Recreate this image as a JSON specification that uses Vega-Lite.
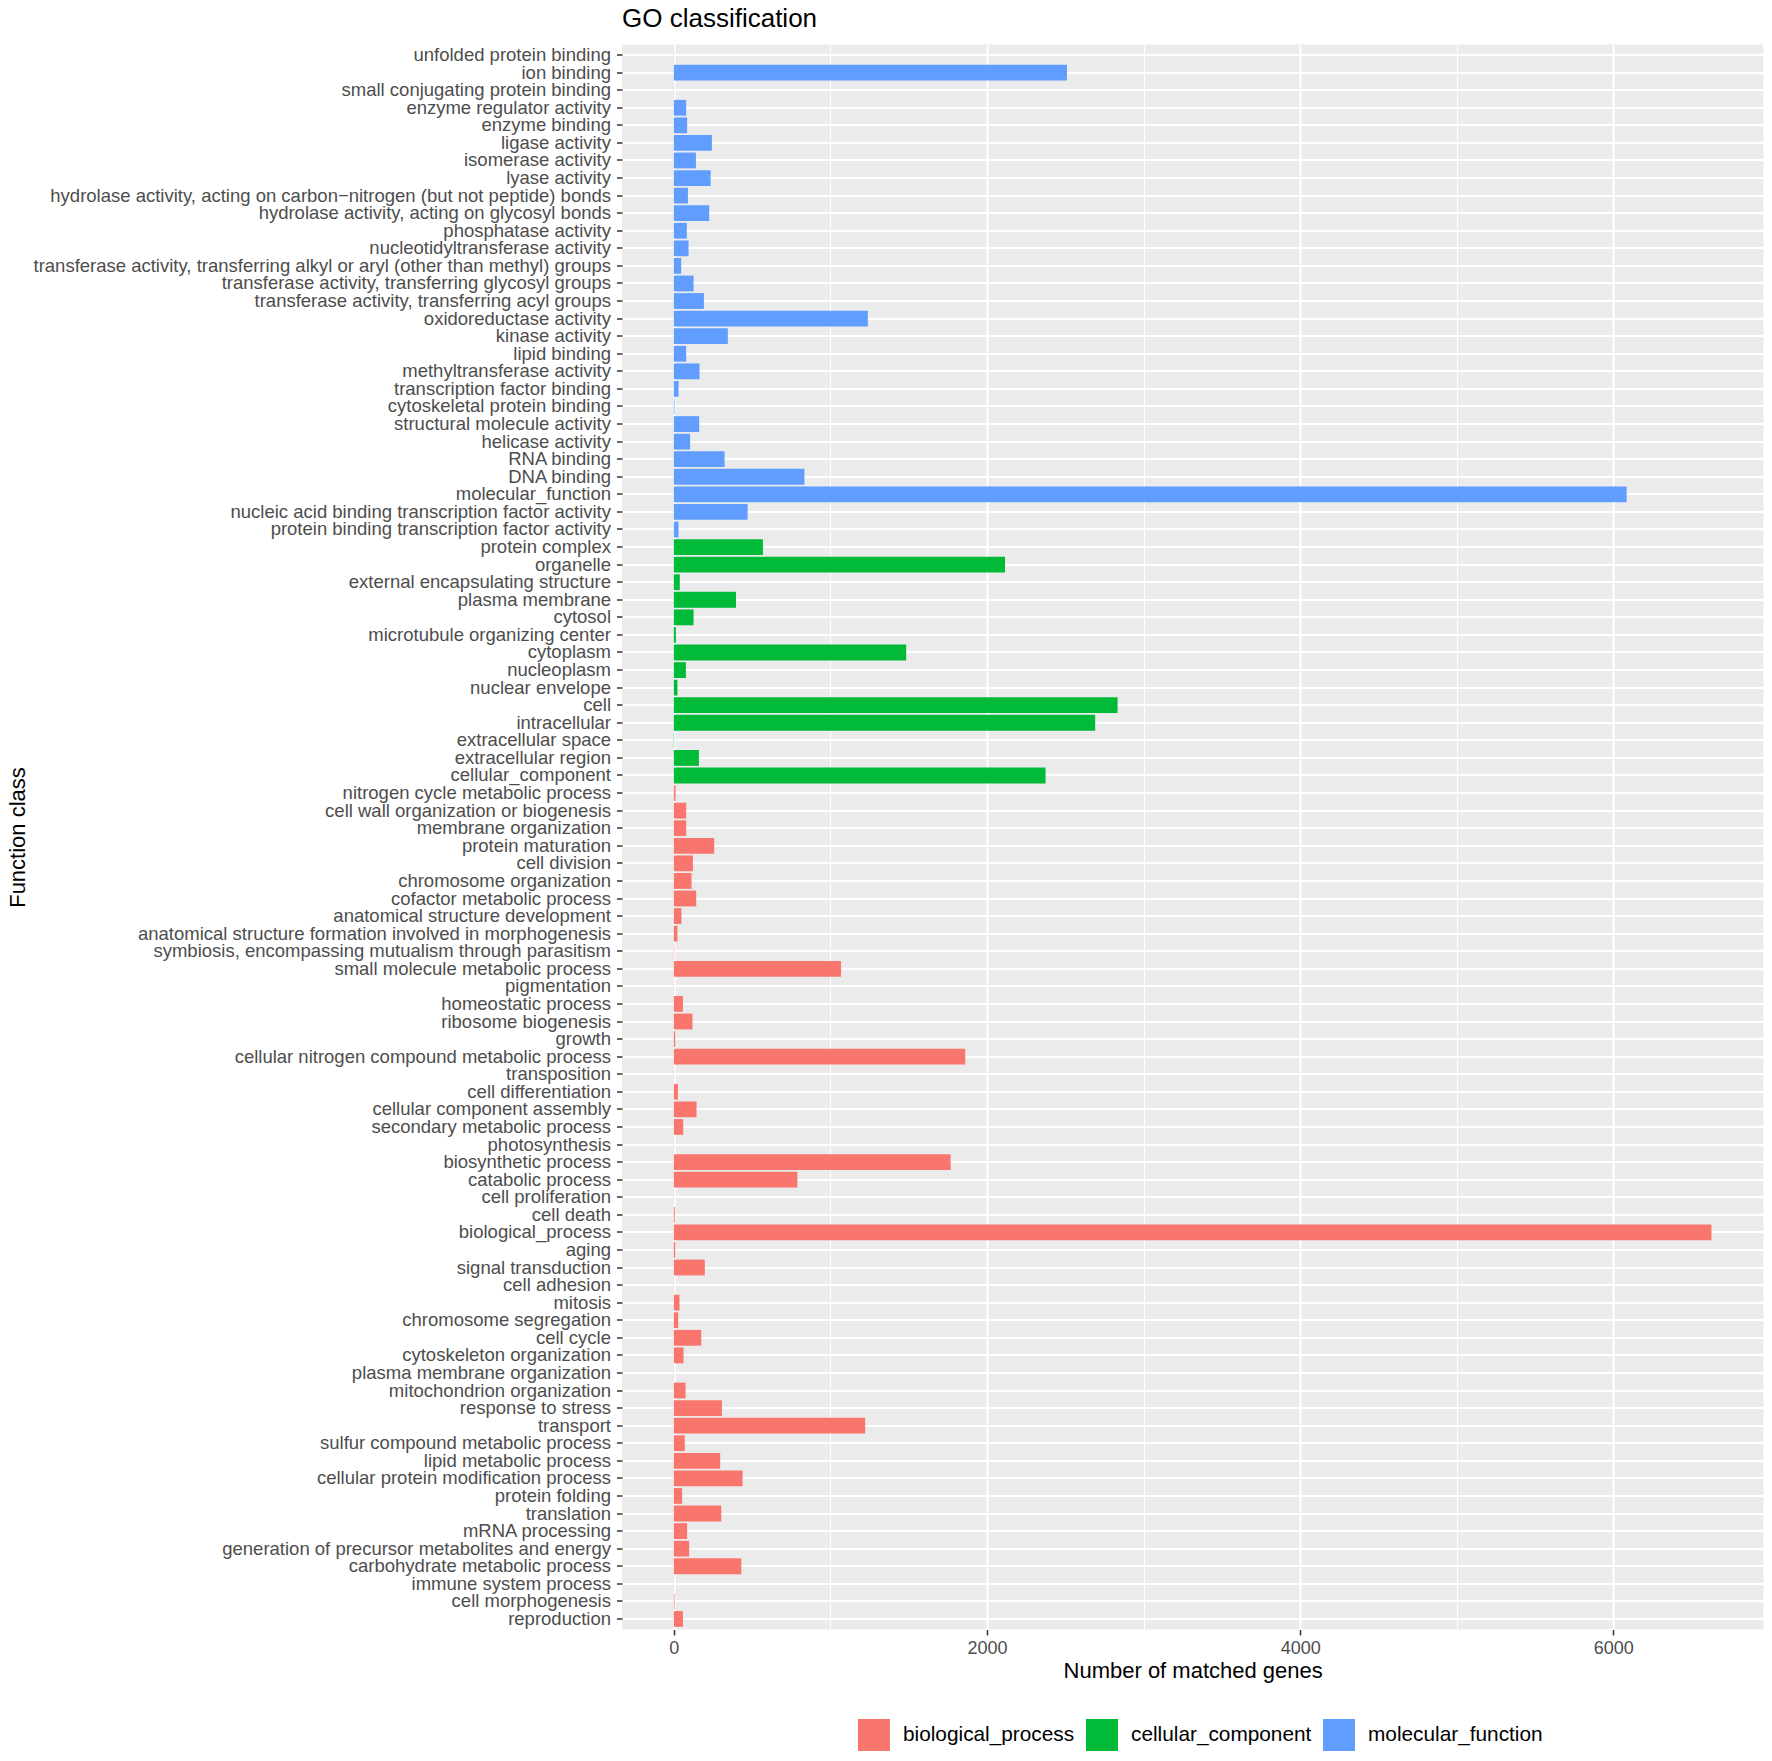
{
  "$schema": "https://vega.github.io/schema/vega-lite/v6.json",
  "autosize": {"type": "none"},
  "padding": {"left": 622, "top": 44.5, "right": 8.7, "bottom": 131.5},
  "width": 1141.3,
  "height": 1585,
  "background": "white",
  "config": {
    "font": "Liberation Sans",
    "view": {"fill": "#EBEBEB", "stroke": null}
  },
  "title": {
    "text": "GO classification",
    "anchor": "start",
    "frame": "group",
    "fontSize": 26,
    "fontWeight": "normal",
    "color": "#000000",
    "offset": 13
  },
  "data": {
    "values": [
      {"term": "unfolded protein binding", "category": "molecular_function", "count": 1},
      {"term": "ion binding", "category": "molecular_function", "count": 2511},
      {"term": "small conjugating protein binding", "category": "molecular_function", "count": 1},
      {"term": "enzyme regulator activity", "category": "molecular_function", "count": 79},
      {"term": "enzyme binding", "category": "molecular_function", "count": 85},
      {"term": "ligase activity", "category": "molecular_function", "count": 243},
      {"term": "isomerase activity", "category": "molecular_function", "count": 141},
      {"term": "lyase activity", "category": "molecular_function", "count": 235},
      {"term": "hydrolase activity, acting on carbon−nitrogen (but not peptide) bonds", "category": "molecular_function", "count": 90},
      {"term": "hydrolase activity, acting on glycosyl bonds", "category": "molecular_function", "count": 226},
      {"term": "phosphatase activity", "category": "molecular_function", "count": 83},
      {"term": "nucleotidyltransferase activity", "category": "molecular_function", "count": 94},
      {"term": "transferase activity, transferring alkyl or aryl (other than methyl) groups", "category": "molecular_function", "count": 47},
      {"term": "transferase activity, transferring glycosyl groups", "category": "molecular_function", "count": 126},
      {"term": "transferase activity, transferring acyl groups", "category": "molecular_function", "count": 192},
      {"term": "oxidoreductase activity", "category": "molecular_function", "count": 1239},
      {"term": "kinase activity", "category": "molecular_function", "count": 345},
      {"term": "lipid binding", "category": "molecular_function", "count": 79},
      {"term": "methyltransferase activity", "category": "molecular_function", "count": 164},
      {"term": "transcription factor binding", "category": "molecular_function", "count": 30},
      {"term": "cytoskeletal protein binding", "category": "molecular_function", "count": 4},
      {"term": "structural molecule activity", "category": "molecular_function", "count": 162},
      {"term": "helicase activity", "category": "molecular_function", "count": 104},
      {"term": "RNA binding", "category": "molecular_function", "count": 324},
      {"term": "DNA binding", "category": "molecular_function", "count": 834},
      {"term": "molecular_function", "category": "molecular_function", "count": 6085},
      {"term": "nucleic acid binding transcription factor activity", "category": "molecular_function", "count": 471},
      {"term": "protein binding transcription factor activity", "category": "molecular_function", "count": 30},
      {"term": "protein complex", "category": "cellular_component", "count": 569},
      {"term": "organelle", "category": "cellular_component", "count": 2115},
      {"term": "external encapsulating structure", "category": "cellular_component", "count": 38},
      {"term": "plasma membrane", "category": "cellular_component", "count": 397},
      {"term": "cytosol", "category": "cellular_component", "count": 126},
      {"term": "microtubule organizing center", "category": "cellular_component", "count": 13},
      {"term": "cytoplasm", "category": "cellular_component", "count": 1484},
      {"term": "nucleoplasm", "category": "cellular_component", "count": 77},
      {"term": "nuclear envelope", "category": "cellular_component", "count": 23},
      {"term": "cell", "category": "cellular_component", "count": 2834},
      {"term": "intracellular", "category": "cellular_component", "count": 2691},
      {"term": "extracellular space", "category": "cellular_component", "count": 2},
      {"term": "extracellular region", "category": "cellular_component", "count": 160},
      {"term": "cellular_component", "category": "cellular_component", "count": 2374},
      {"term": "nitrogen cycle metabolic process", "category": "biological_process", "count": 11},
      {"term": "cell wall organization or biogenesis", "category": "biological_process", "count": 79},
      {"term": "membrane organization", "category": "biological_process", "count": 79},
      {"term": "protein maturation", "category": "biological_process", "count": 258},
      {"term": "cell division", "category": "biological_process", "count": 122},
      {"term": "chromosome organization", "category": "biological_process", "count": 113},
      {"term": "cofactor metabolic process", "category": "biological_process", "count": 143},
      {"term": "anatomical structure development", "category": "biological_process", "count": 49},
      {"term": "anatomical structure formation involved in morphogenesis", "category": "biological_process", "count": 23},
      {"term": "symbiosis, encompassing mutualism through parasitism", "category": "biological_process", "count": 2},
      {"term": "small molecule metabolic process", "category": "biological_process", "count": 1068},
      {"term": "pigmentation", "category": "biological_process", "count": 1},
      {"term": "homeostatic process", "category": "biological_process", "count": 58},
      {"term": "ribosome biogenesis", "category": "biological_process", "count": 119},
      {"term": "growth", "category": "biological_process", "count": 9},
      {"term": "cellular nitrogen compound metabolic process", "category": "biological_process", "count": 1861},
      {"term": "transposition", "category": "biological_process", "count": 1},
      {"term": "cell differentiation", "category": "biological_process", "count": 26},
      {"term": "cellular component assembly", "category": "biological_process", "count": 145},
      {"term": "secondary metabolic process", "category": "biological_process", "count": 60},
      {"term": "photosynthesis", "category": "biological_process", "count": 1},
      {"term": "biosynthetic process", "category": "biological_process", "count": 1768},
      {"term": "catabolic process", "category": "biological_process", "count": 789},
      {"term": "cell proliferation", "category": "biological_process", "count": 1},
      {"term": "cell death", "category": "biological_process", "count": 6},
      {"term": "biological_process", "category": "biological_process", "count": 6627},
      {"term": "aging", "category": "biological_process", "count": 9},
      {"term": "signal transduction", "category": "biological_process", "count": 198},
      {"term": "cell adhesion", "category": "biological_process", "count": 1},
      {"term": "mitosis", "category": "biological_process", "count": 36},
      {"term": "chromosome segregation", "category": "biological_process", "count": 28},
      {"term": "cell cycle", "category": "biological_process", "count": 175},
      {"term": "cytoskeleton organization", "category": "biological_process", "count": 62},
      {"term": "plasma membrane organization", "category": "biological_process", "count": 1},
      {"term": "mitochondrion organization", "category": "biological_process", "count": 75},
      {"term": "response to stress", "category": "biological_process", "count": 307},
      {"term": "transport", "category": "biological_process", "count": 1222},
      {"term": "sulfur compound metabolic process", "category": "biological_process", "count": 70},
      {"term": "lipid metabolic process", "category": "biological_process", "count": 296},
      {"term": "cellular protein modification process", "category": "biological_process", "count": 439},
      {"term": "protein folding", "category": "biological_process", "count": 53},
      {"term": "translation", "category": "biological_process", "count": 303},
      {"term": "mRNA processing", "category": "biological_process", "count": 85},
      {"term": "generation of precursor metabolites and energy", "category": "biological_process", "count": 98},
      {"term": "carbohydrate metabolic process", "category": "biological_process", "count": 431},
      {"term": "immune system process", "category": "biological_process", "count": 1},
      {"term": "cell morphogenesis", "category": "biological_process", "count": 4},
      {"term": "reproduction", "category": "biological_process", "count": 58}
    ]
  },
  "mark": {"type": "bar"},
  "encoding": {
    "y": {
      "field": "term",
      "type": "nominal",
      "sort": null,
      "scale": {"paddingInner": 0.1, "paddingOuter": 0.15},
      "axis": {
        "title": "Function class",
        "titleFontSize": 22,
        "titleFontWeight": "normal",
        "titleColor": "#000000",
        "titleX": -605,
        "titleY": 792.5,
        "titleAlign": "center",
        "titleBaseline": "middle",
        "labelFontSize": 18.5,
        "labelColor": "#4D4D4D",
        "labelLimit": 800,
        "labelPadding": 6,
        "tickSize": 5.5,
        "tickWidth": 1.5,
        "tickColor": "#333333",
        "domain": false,
        "grid": true,
        "gridColor": "#FFFFFF",
        "gridWidth": 2
      }
    },
    "x": {
      "field": "count",
      "type": "quantitative",
      "scale": {"domain": [-331, 6958], "nice": false, "zero": false},
      "axis": {
        "title": "Number of matched genes",
        "titleFontSize": 22,
        "titleFontWeight": "normal",
        "titleColor": "#000000",
        "titleX": 570.65,
        "titleY": 41,
        "titleAlign": "center",
        "titleBaseline": "middle",
        "values": [0, 1000, 2000, 3000, 4000, 5000, 6000],
        "labelExpr": "datum.value % 2000 === 0 ? datum.value : ''",
        "labelFontSize": 18,
        "labelColor": "#4D4D4D",
        "labelPadding": 4,
        "tickSize": 5.5,
        "tickWidth": 1.5,
        "tickColor": "#333333",
        "tickOpacity": {"condition": {"test": "datum.value % 2000 === 0", "value": 1}, "value": 0},
        "domain": false,
        "grid": true,
        "gridColor": "#FFFFFF",
        "gridWidth": {"condition": {"test": "datum.value % 2000 === 0", "value": 2}, "value": 1}
      }
    },
    "color": {
      "field": "category",
      "type": "nominal",
      "scale": {
        "domain": ["biological_process", "cellular_component", "molecular_function"],
        "range": ["#F8766D", "#00BA38", "#619CFF"]
      },
      "legend": {
        "title": null,
        "orient": "none",
        "direction": "horizontal",
        "legendX": 236,
        "legendY": 1674.5,
        "padding": 0,
        "symbolType": "square",
        "symbolSize": 1024,
        "symbolStrokeWidth": 0,
        "symbolOpacity": 1,
        "labelFontSize": 20.8,
        "labelLimit": 400,
        "labelColor": "#000000",
        "labelOffset": 13,
        "columnPadding": 11
      }
    }
  }
}
